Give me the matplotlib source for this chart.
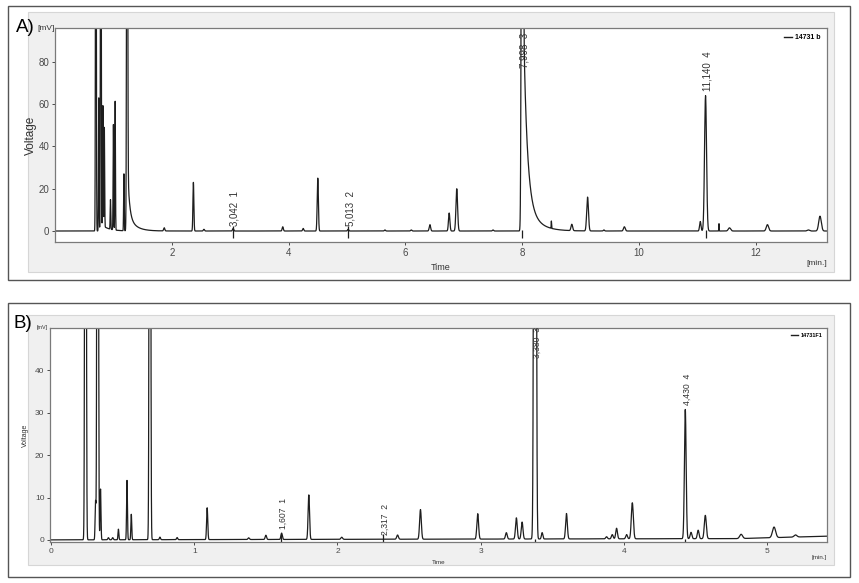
import numpy as np
import matplotlib.pyplot as plt
from matplotlib.patches import Rectangle

plt.rcParams["font.family"] = ["Liberation Sans", "DejaVu Sans"]

# ---- panel A: 14731 b  (time in min, height in mV, sigma in min)
A_TIMES = [0.70, 0.75, 0.785, 0.82, 0.845, 0.95, 1.00, 1.03, 1.18, 1.235,
           1.87, 2.37, 2.55, 3.05, 3.90, 4.25, 4.50, 5.02, 5.65, 6.10,
           6.42, 6.75, 6.88, 7.50, 8.00, 8.50, 8.85, 9.12, 9.40, 9.75,
           11.05, 11.14, 11.37, 11.55, 12.20, 12.90, 13.10]
A_HEIGHTS = [300, 63, 300, 57, 47, 14, 50, 61, 27, 300,
             1.5, 23, 0.8, 1.2, 2.0, 1.2, 25, 0.8, 0.5, 0.5,
             3.0, 8.5, 20, 0.5, 400, 3.5, 3.0, 16, 0.5, 2.0,
             4.5, 64, 3.5, 1.5, 3.0, 0.5, 7.0]
A_SIGMAS = [0.006, 0.005, 0.006, 0.005, 0.005, 0.005, 0.005, 0.005, 0.005, 0.008,
            0.01, 0.008, 0.01, 0.01, 0.01, 0.01, 0.01, 0.01, 0.01, 0.01,
            0.012, 0.012, 0.014, 0.01, 0.012, 0.003, 0.014, 0.015, 0.01, 0.015,
            0.012, 0.017, 0.003, 0.02, 0.02, 0.02, 0.022]
# tailing components: start time, amplitude, decay constant
A_TAIL_T = [0.80, 1.24, 1.24, 8.00, 8.00]
A_TAIL_AMP = [3.0, 25.0, 8.0, 120.0, 20.0]
A_TAIL_TAU = [0.12, 0.03, 0.12, 0.06, 0.18]
A_LABEL_T = [3.042, 5.013, 7.998, 11.140]
A_LABEL_TXT = ["3,042  1", "5,013  2", "7,998  3", "11,140  4"]
A_LABEL_Y = [2.2, 2.2, 77, 66]

# ---- panel B: 14731F1
B_TIMES = [0.24, 0.31, 0.325, 0.345, 0.40, 0.43, 0.47, 0.53, 0.56, 0.69,
           0.76, 0.88, 1.09, 1.38, 1.50, 1.61, 1.80, 2.03, 2.42, 2.58,
           2.98, 3.18, 3.25, 3.29, 3.38, 3.43, 3.60, 3.88, 3.92, 3.95,
           4.02, 4.06, 4.43, 4.47, 4.52, 4.57, 4.82, 5.05, 5.20]
B_HEIGHTS = [300, 9, 300, 12, 0.5, 0.5, 2.5, 14, 6, 300,
             0.6, 0.5, 7.5, 0.4, 1.0, 1.5, 10.5, 0.5, 1.0, 7.0,
             6.0, 1.5, 5.0, 4.0, 400, 1.5, 6.0, 0.5, 1.0, 2.5,
             1.0, 8.5, 30.5, 1.5, 2.0, 5.5, 1.0, 2.5, 0.5]
B_SIGMAS = [0.004, 0.003, 0.004, 0.003, 0.004, 0.004, 0.003, 0.003, 0.003, 0.004,
            0.004, 0.004, 0.004, 0.005, 0.005, 0.005, 0.005, 0.006, 0.006, 0.006,
            0.006, 0.006, 0.006, 0.006, 0.006, 0.005, 0.006, 0.006, 0.006, 0.006,
            0.006, 0.007, 0.006, 0.006, 0.006, 0.007, 0.01, 0.011, 0.01]
B_LABEL_T = [1.607, 2.317, 3.380, 4.430]
B_LABEL_TXT = ["1,607  1", "2,317  2", "3,380  3", "4,430  4"]
B_LABEL_Y = [2.6, 1.2, 43.0, 31.8]
B_DRIFT_T = [0.0, 4.8, 5.45]
B_DRIFT_V = [0.0, 0.3, 0.9]

LINE = "#1e1e1e"
GREY = "#4a4a4a"


def trace(t, times, heights, sigmas, tail_t=(), tail_amp=(), tail_tau=()):
    y = np.zeros_like(t)
    for t0, h, s in zip(times, heights, sigmas):
        y += h * np.exp(-0.5 * ((t - t0) / s) ** 2)
    for t0, a, tau in zip(tail_t, tail_amp, tail_tau):
        on = t >= t0
        rise = 1 - np.exp(-np.clip(t - t0, 0, None) / 0.004)
        y += np.where(on, a * rise * np.exp(-np.clip(t - t0, 0, None) / tau), 0)
    return y


def px(x0, y0, x1, y1):
    # pixel box -> figure fraction [left, bottom, width, height]
    return [x0 / 859, 1 - y1 / 583, (x1 - x0) / 859, (y1 - y0) / 583]


fig = plt.figure(figsize=(8.59, 5.83), dpi=100)

for box in [(8, 6, 850, 280), (8, 303, 850, 577)]:
    l, b, w, h = px(*box)
    fig.patches.append(Rectangle((l, b), w, h, transform=fig.transFigure,
                                 facecolor="white", edgecolor="#555555", lw=1.0,
                                 zorder=-20))
for box in [(28, 12, 834, 272), (28, 315, 834, 565)]:
    l, b, w, h = px(*box)
    fig.patches.append(Rectangle((l, b), w, h, transform=fig.transFigure,
                                 facecolor="#f0f0f0", edgecolor="#d6d6d6", lw=0.8,
                                 zorder=-10))

axA = fig.add_axes(px(55, 28, 827, 242))
axB = fig.add_axes(px(50, 328, 827, 542))

# panel A
tA = np.linspace(0, 13.25, 12000)
yA = trace(tA, A_TIMES, A_HEIGHTS, A_SIGMAS, A_TAIL_T, A_TAIL_AMP, A_TAIL_TAU)
axA.plot(tA, yA, color=LINE, lw=0.9)
axA.set_xlim(0, 13.22)
axA.set_ylim(-5.2, 96)
axA.set_xticks([2, 4, 6, 8, 10, 12])
axA.set_yticks([0, 20, 40, 60, 80])
for t0, txt, yl in zip(A_LABEL_T, A_LABEL_TXT, A_LABEL_Y):
    axA.vlines(t0, -3.2, 2.5 if yl < 10 else 0.5, color=LINE, lw=0.9)
    axA.text(t0 + 0.04, yl, txt, rotation=90, ha="center", va="bottom",
             fontsize=7, color="#333333")
axA.plot([], [], color=LINE, lw=1, label="14731 b")
axA.set_ylabel("Voltage", fontsize=8.5, color="#333333", labelpad=1)
axA.set_xlabel("Time", fontsize=6.5, color="#333333", labelpad=4)
axA.text(-0.012, 1.0, "[mV]", transform=axA.transAxes, fontsize=6,
         ha="center", va="center", color="#333333")
axA.text(1.0, -0.085, "[min.]", transform=axA.transAxes, fontsize=6,
         ha="right", va="top", color="#333333")
fig.text(16 / 859, 1 - 27 / 583, "A)", fontsize=13.5, ha="left", va="center")

# panel B
tB = np.linspace(0, 5.45, 12000)
yB = trace(tB, B_TIMES, B_HEIGHTS, B_SIGMAS) + np.interp(tB, B_DRIFT_T, B_DRIFT_V)
axB.plot(tB, yB, color=LINE, lw=0.9)
axB.set_xlim(-0.008, 5.42)
axB.set_ylim(-0.5, 50)
axB.set_xticks([0, 1, 2, 3, 4, 5])
axB.set_yticks([0, 10, 20, 30, 40])
for t0, txt, yl in zip(B_LABEL_T, B_LABEL_TXT, B_LABEL_Y):
    axB.vlines(t0, -0.5, 1.5 if yl < 10 else 0.3, color=LINE, lw=0.9)
    axB.text(t0 + 0.014, yl, txt, rotation=90, ha="center", va="bottom",
             fontsize=6.2, color="#333333")
axB.plot([], [], color=LINE, lw=1, label="14731F1")
axB.set_ylabel("Voltage", fontsize=5, color="#333333", labelpad=4)
axB.set_xlabel("Time", fontsize=4.5, color="#333333", labelpad=4)
axB.text(-0.0095, 1.0, "[mV]", transform=axB.transAxes, fontsize=4,
         ha="center", va="center", color="#333333")
axB.text(1.0, -0.06, "[min.]", transform=axB.transAxes, fontsize=4.5,
         ha="right", va="top", color="#333333")
fig.text(14 / 859, 1 - 323 / 583, "B)", fontsize=13.5, ha="left", va="center")

for ax, fs, lfs in [(axA, 7, 5), (axB, 6, 4)]:
    for s in ax.spines.values():
        s.set_color("#7a7a7a")
        s.set_linewidth(0.9)
    ax.tick_params(labelsize=fs, colors=GREY, length=2.5, width=0.7, pad=1.5)
    leg = ax.legend(loc="upper right", fontsize=lfs, frameon=False,
                    handlelength=1.2, handletextpad=0.4, borderaxespad=0.5)
    for txt in leg.get_texts():
        txt.set_fontweight("bold")

fig.savefig("out.png", dpi=100)
